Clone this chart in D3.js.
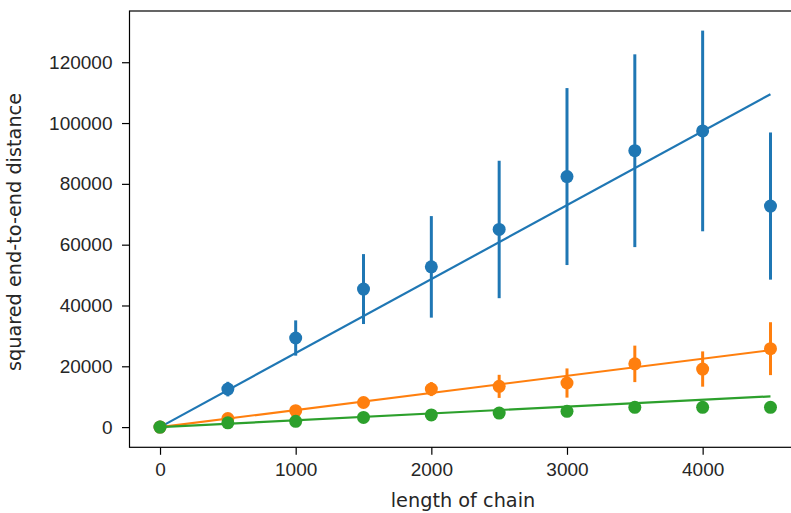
<!DOCTYPE html>
<html>
<head>
<meta charset="utf-8">
<script src="https://cdn.jsdelivr.net/npm/d3@7"></script>
<style>
  body { margin: 0; background: #fff; }
  svg { display: block; font-family: "DejaVu Sans", sans-serif; }
  .axis text { font-size: 19px; fill: #262626; }
  .axis path, .axis line { stroke: #000; }
  .label { font-size: 19.3px; fill: #262626; }
</style>
</head>
<body>
<svg width="791" height="513"></svg>
<script>
// chain lengths and measured means / errors per series
var chainLength = [0, 500, 1000, 1500, 2000, 2500, 3000, 3500, 4000, 4500];
var blueMean   = [0, 12500, 29300, 45400, 52700, 65000, 82400, 90900, 97400, 72700];
var blueErr    = [0, 2400, 5800, 11500, 16700, 22600, 29100, 31700, 33000, 24200];
var orangeMean = [0, 2800, 5400, 8100, 12500, 13400, 14500, 20800, 19100, 25800];
var orangeErr  = [0, 600, 1100, 1600, 2300, 3800, 4800, 6000, 5800, 8700];
var greenMean  = [0, 1400, 1900, 3200, 4000, 4600, 5200, 6500, 6500, 6500];
var greenErr   = [0, 300, 400, 700, 900, 1000, 1200, 1500, 1500, 1600];
// fitted straight lines, read at both ends
var fitX      = [0, 4500];
var blueFit   = [0, 109500];
var orangeFit = [0, 25300];
var greenFit  = [0, 10100];
var xTicks = [0, 1000, 2000, 3000, 4000];
var yTicks = [0, 20000, 40000, 60000, 80000, 100000, 120000];

var series = [
  { mean: blueMean, err: blueErr, fit: blueFit, colour: "#1f77b4" },
  { mean: orangeMean, err: orangeErr, fit: orangeFit, colour: "#ff7f0e" },
  { mean: greenMean, err: greenErr, fit: greenFit, colour: "#2ca02c" }
];

var svg = d3.select("svg"),
    margin = { top: 11, right: -10, bottom: 65.7, left: 129.5 },
    width = +svg.attr("width") - margin.left - margin.right,
    height = +svg.attr("height") - margin.top - margin.bottom;

var g = svg.append("g")
    .attr("transform", "translate(" + margin.left + "," + margin.top + ")");

var x = d3.scaleLinear().domain([-225, 4725]).range([0, width]);
var y = d3.scaleLinear().domain([-6640, 136850]).range([height, 0]);

var line = d3.line()
    .x(function (d) { return x(d[0]); })
    .y(function (d) { return y(d[1]); });

series.forEach(function (s) {
    var pts = chainLength.map(function (c, i) { return { c: c, m: s.mean[i], e: s.err[i] }; });
    // error bars
    g.append("g").selectAll("line")
        .data(pts)
        .enter().append("line")
        .attr("x1", function (d) { return x(d.c); })
        .attr("x2", function (d) { return x(d.c); })
        .attr("y1", function (d) { return y(d.m - d.e); })
        .attr("y2", function (d) { return y(d.m + d.e); })
        .style("stroke", s.colour)
        .style("stroke-width", 3);
    // fit line
    g.append("path")
        .datum(fitX.map(function (v, i) { return [v, s.fit[i]]; }))
        .attr("d", line)
        .style("fill", "none")
        .style("stroke", s.colour)
        .style("stroke-width", 2.2);
    // points
    g.append("g").selectAll("circle")
        .data(pts)
        .enter().append("circle")
        .attr("cx", function (d) { return x(d.c); })
        .attr("cy", function (d) { return y(d.m); })
        .attr("r", 6.5)
        .style("fill", s.colour);
});

// frame
g.append("rect")
    .attr("width", width)
    .attr("height", height)
    .style("fill", "none")
    .style("stroke", "#000")
    .style("stroke-width", 1.2);

// x-axis
g.append("g")
    .attr("class", "x axis")
    .attr("transform", "translate(0," + height + ")")
    .call(d3.axisBottom(x).tickValues(xTicks).tickFormat(d3.format("d")).tickSize(7.5).tickPadding(8))
    .call(function (a) { a.select(".domain").remove(); });

// y-axis
g.append("g")
    .attr("class", "y axis")
    .call(d3.axisLeft(y).tickValues(yTicks).tickFormat(d3.format("d")).tickSize(7.5).tickPadding(9.5))
    .call(function (a) { a.select(".domain").remove(); });

g.selectAll(".axis line").style("stroke-width", 1.2);

// X label
svg.append("text")
    .attr("class", "label")
    .attr("text-anchor", "middle")
    .attr("x", 463)
    .attr("y", 507)
    .text("length of chain");

// Y label
svg.append("text")
    .attr("class", "label")
    .attr("text-anchor", "middle")
    .attr("transform", "translate(21,232) rotate(-90)")
    .text("squared end-to-end distance");
</script>
</body>
</html>
